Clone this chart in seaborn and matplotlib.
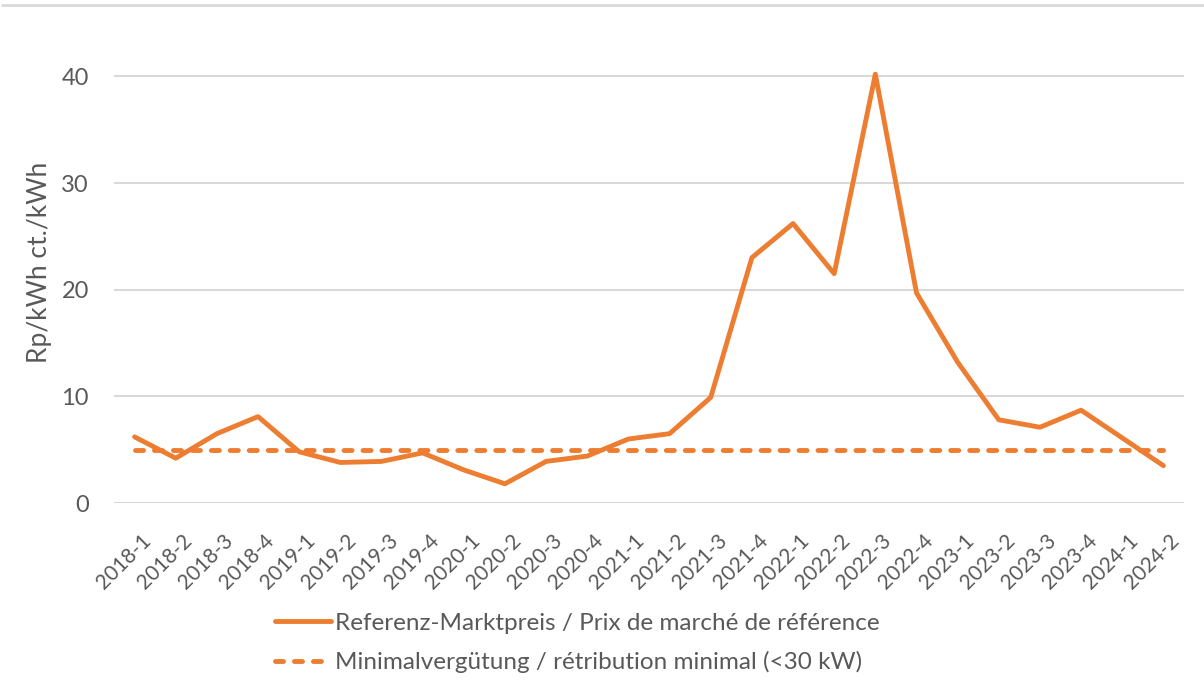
import pandas as pd
import seaborn as sns
import matplotlib.pyplot as plt
from matplotlib.lines import Line2D
from matplotlib.transforms import ScaledTranslation

quarters = ['2018-1', '2018-2', '2018-3', '2018-4', '2019-1', '2019-2', '2019-3', '2019-4',
            '2020-1', '2020-2', '2020-3', '2020-4', '2021-1', '2021-2', '2021-3', '2021-4',
            '2022-1', '2022-2', '2022-3', '2022-4', '2023-1', '2023-2', '2023-3', '2023-4',
            '2024-1', '2024-2']
market_price = [6.2, 4.2, 6.5, 8.1, 4.8, 3.8, 3.9, 4.7,
                3.1, 1.8, 3.9, 4.4, 6.0, 6.5, 9.9, 23.0,
                26.2, 21.5, 40.2, 19.7, 13.2, 7.8, 7.1, 8.7,
                6.1, 3.5]
minimal_rate = [5.0] * len(quarters)

label_market = 'Referenz-Marktpreis / Prix de marché de référence'
label_min = 'Minimalvergütung / rétribution minimal (<30 kW)'
orange = '#ED7D31'
grey_text = '#595959'
dash_pattern = (1.65, 2.25)

sns.set_theme(style='white')
plt.rcParams['font.family'] = ['Lato', 'DejaVu Sans']

df = pd.DataFrame({'Quartal': quarters, 'Markt': market_price, 'Minimal': minimal_rate})

fig = plt.figure(figsize=(12.04, 6.82), dpi=100)
ax = fig.add_axes([114 / 1204, 1 - 503 / 682, 1070 / 1204, 448 / 682])

sns.lineplot(data=df, x='Quartal', y='Markt', ax=ax, color=orange, linewidth=3.5,
             sort=False, label=label_market)
sns.lineplot(data=df, x='Quartal', y='Minimal', ax=ax, color=orange, linewidth=3.5,
             sort=False, label=label_min)
dash_line = ax.lines[1]
dash_line.set_dashes(dash_pattern)
dash_line.set_dash_capstyle('round')
ax.lines[0].set_solid_capstyle('round')

ax.set_xlim(-0.5, 25.5)
ax.set_ylim(0, 42)
ax.set_yticks([0, 10, 20, 30, 40])
ax.yaxis.grid(True, color='#D9D9D9', linewidth=1.5)
ax.set_axisbelow(True)
for s in ax.spines.values():
    s.set_visible(False)

ax.tick_params(axis='y', length=0, pad=18, labelsize=17, labelcolor=grey_text)
ax.tick_params(axis='x', length=0, pad=20, labelsize=15, labelcolor=grey_text)
offset = ScaledTranslation(6 / 100, 0, fig.dpi_scale_trans)
for lab in ax.get_xticklabels():
    lab.set_rotation(45)
    lab.set_ha('right')
    lab.set_rotation_mode('anchor')
    lab.set_transform(lab.get_transform() + offset)
ax.set_xlabel('')
ax.set_ylabel('Rp/kWh ct./kWh', fontsize=19, color=grey_text)
ax.yaxis.set_label_coords(-0.058, (503 - 262) / 448)

ax.get_legend().remove()
handles = [Line2D([], [], color=orange, linewidth=3.5),
           Line2D([], [], color=orange, linewidth=3.5, dashes=dash_pattern, dash_capstyle='round')]
fig.legend(handles, [label_market, label_min], loc='upper left',
           bbox_to_anchor=(265 / 1204, 1 - 603 / 682), frameon=False, fontsize=17.5,
           handlelength=2.3, handletextpad=0.2, labelspacing=0.72, labelcolor=grey_text,
           borderaxespad=0)

fig.add_artist(Line2D([2 / 1204, 1], [1 - 5 / 682, 1 - 5 / 682], color='#D9D9D9', linewidth=2))

fig.savefig('out.png', dpi=100)
